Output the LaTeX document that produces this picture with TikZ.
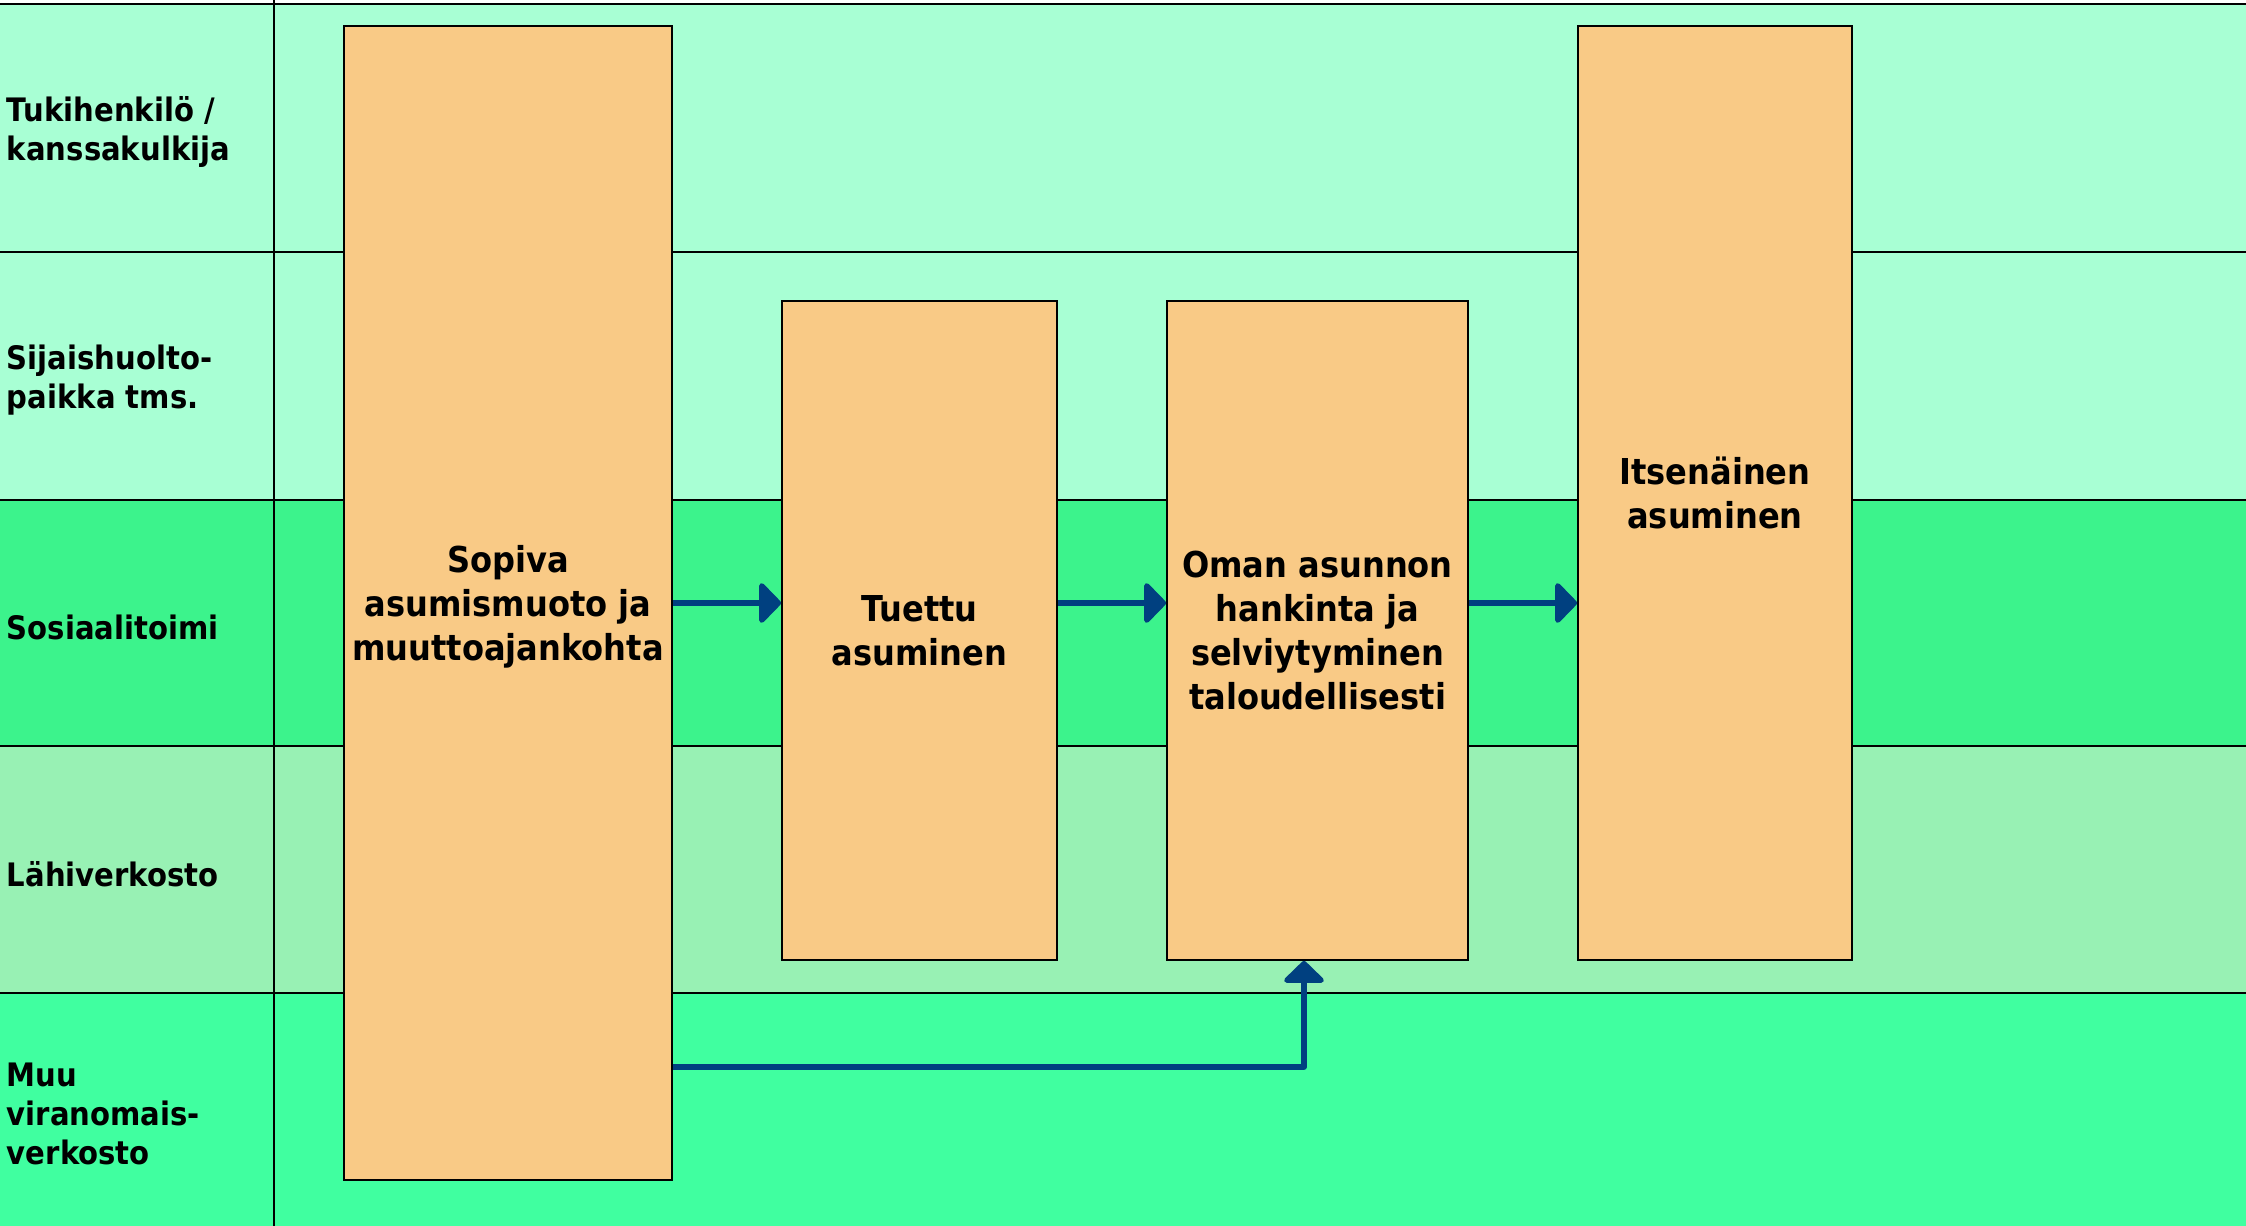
\documentclass[tikz,border=0pt]{standalone}
\usepackage{fontspec}
\setmainfont{DejaVu Sans}[FakeStretch=0.9]
\usetikzlibrary{arrows.meta,calc,positioning,fit}

\definecolor{laneA}{HTML}{A8FFD4}
\definecolor{laneC}{HTML}{3CF38C}
\definecolor{laneD}{HTML}{98F1B4}
\definecolor{laneE}{HTML}{40FFA0}
\definecolor{stepfill}{HTML}{F9CA86}
\definecolor{arrowblue}{HTML}{004080}

\begin{document}
\begin{tikzpicture}[x=0.02cm, y=-0.02cm,
		arrow/.style = {line width=2.9pt, draw=arrowblue, line join=round, -{Triangle[length=0.46cm,width=0.92cm,round]}}]
		\tikzset{lane/.style={inner sep=0pt, draw=none},
			laneline/.style={line width=1.1pt, black},
			lanelabel/.style={anchor=west, inner sep=0pt, align=left, yshift=-2.5pt, font=\bfseries\fontsize{18.4}{22.3}\selectfont},
			stepbox/.style={draw=black, line width=1pt, inner sep=0pt, fill=stepfill},
			steptext/.style={inner sep=0pt, align=center, font=\bfseries\fontsize{20.3}{25}\selectfont}}

		\useasboundingbox (0,0) rectangle (2246,1226);

		% Lanes
		\node[fit={(0,4) (2246,252)}, lane, fill=laneA] (lane1) {};
		\node[fit={(0,252) (2246,500)}, lane, fill=laneA] (lane2) {};
		\node[fit={(0,500) (2246,746)}, lane, fill=laneC] (lane3) {};
		\node[fit={(0,746) (2246,993)}, lane, fill=laneD] (lane4) {};
		\node[fit={(0,993) (2246,1226)}, lane, fill=laneE] (lane5) {};

		\foreach \l in {lane1,lane2,lane3,lane4,lane5}
			\draw[laneline] (\l.north west) -- (\l.north east);
		\draw[laneline] (274,0) -- (274,1226);

		% Lane labels
		\node[lanelabel] (tuki) at ($(lane1.west)+(7,0)$) {Tukihenkilö /\\kanssakulkija};
		\node[lanelabel] (sijais) at ($(lane2.west)+(7,0)$) {Sijaishuolto-\\paikka tms.};
		\node[lanelabel] (sos) at ($(lane3.west)+(7,0)$) {Sosiaalitoimi};
		\node[lanelabel] (lahi) at ($(lane4.west)+(7,0)$) {Lähiverkosto};
		\node[lanelabel] (muu) at ($(lane5.west)+(7,0)$) {Muu\\viranomais-\\verkosto};

		% Steps
		\node[stepbox, fit={(344,26) (672,1180)}] (sopiva) {};
		\node[steptext, yshift=-2pt] (sopivatext) at (sopiva.center) {Sopiva\\asumismuoto ja\\muuttoajankohta};

		\node[stepbox, fit={(782,301) (1057,960)}] (tuettu) {};
		\node[steptext] (tuettutext) at (tuettu.center) {Tuettu\\asuminen};

		\node[stepbox, fit={(1167,301) (1468,960)}] (oman) {};
		\node[steptext] (omantext) at (oman.center) {Oman asunnon\\hankinta ja\\selviytyminen\\taloudellisesti};

		\node[stepbox, fit={(1578,26) (1852,960)}] (itse) {};
		\node[steptext] (itsetext) at (itse.center) {Itsenäinen\\asuminen};

		% Arrows
		\coordinate (turn) at (1304,1067);

		\draw [arrow] (sopiva.east) -- (sopiva.east -| tuettu.west);
		\draw [arrow] (tuettu.east |- sopiva.east) -- (oman.west |- sopiva.east);
		\draw [arrow] (oman.east |- sopiva.east) -- (itse.west |- sopiva.east);
		\draw [arrow] (sopiva.east |- turn) -- (turn) -- (turn |- oman.south);

	\end{tikzpicture}
\end{document}
